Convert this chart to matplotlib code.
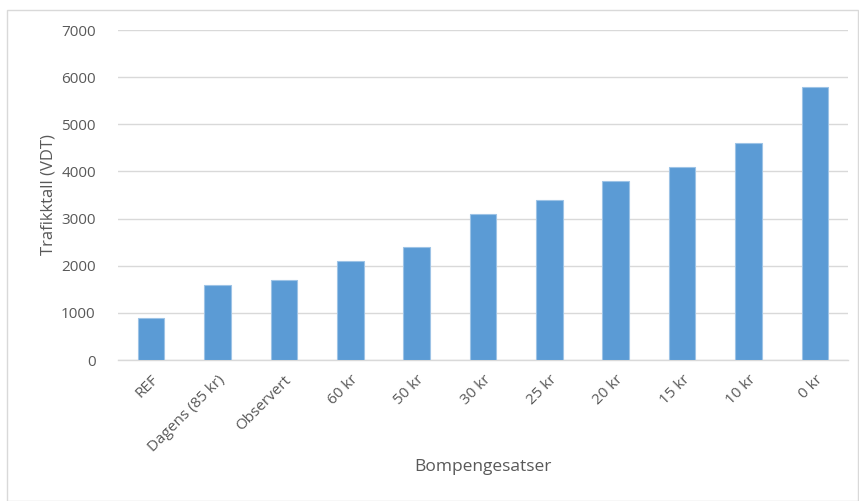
import matplotlib.pyplot as plt
from matplotlib.patches import Rectangle

categories = ["REF", "Dagens (85 kr)", "Observert", "60 kr", "50 kr", "30 kr",
              "25 kr", "20 kr", "15 kr", "10 kr", "0 kr"]
traffic = [900, 1600, 1700, 2100, 2400, 3100, 3400, 3800, 4100, 4600, 5800]
yticks = [0, 1000, 2000, 3000, 4000, 5000, 6000, 7000]

plt.rcParams['font.family'] = ['Open Sans', 'DejaVu Sans']

W, H = 859, 501
fig = plt.figure(figsize=(W / 100, H / 100), dpi=100)
ax = fig.add_axes([118 / W, 1 - 360 / H, (848 - 118) / W, (360 - 30) / H])

x = range(len(categories))
ax.bar(x, traffic, width=0.4, color="#5b9bd5", edgecolor="#9dc3e6",
       linewidth=0.8, zorder=3)

ax.set_xlim(-0.5, len(categories) - 0.5)
ax.set_ylim(0, 7000)
ax.set_yticks(yticks)
ax.set_xticks(list(x))
ax.set_xticklabels(categories, rotation=45, ha="right", va="top",
                   rotation_mode="anchor")
ax.yaxis.grid(True, color="#d9d9d9", linewidth=1, zorder=0)
ax.tick_params(length=0, labelsize=11, colors="#595959")
ax.tick_params(axis="x", pad=9)
ax.tick_params(axis="y", pad=16)
for s in ["top", "right", "left"]:
    ax.spines[s].set_visible(False)
ax.spines["bottom"].set_color("#d9d9d9")
ax.spines["bottom"].set_linewidth(1)

ax.set_ylabel("Trafikktall (VDT)", fontsize=12, color="#595959", labelpad=3)
fig.text(483 / W, 1 - 467 / H, "Bompengesatser", fontsize=12.5,
         color="#595959", ha="center", va="center")

fig.patches.append(Rectangle((7 / W, 0), (W - 8) / W, 1 - 10 / H,
                             transform=fig.transFigure, fill=False,
                             edgecolor="#d9d9d9", linewidth=1))

fig.savefig("out.png", dpi=100)
